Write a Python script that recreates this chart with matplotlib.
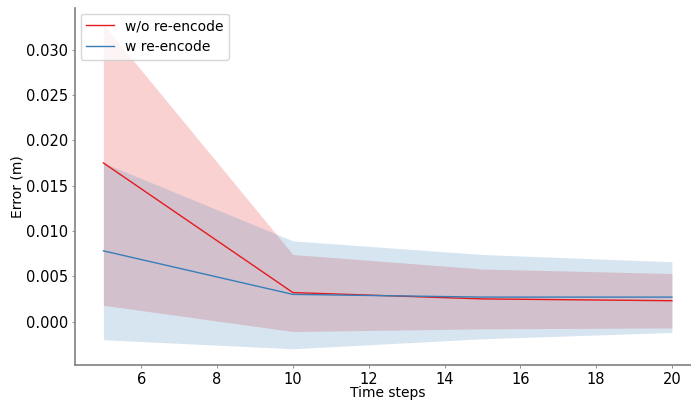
import numpy as np
import matplotlib.pyplot as plt

# time steps and error statistics
steps = [5, 10, 15, 20]

wo_mean = [0.0175, 0.0032, 0.0025, 0.0023]
wo_upper = [0.0328, 0.0074, 0.0058, 0.0053]
wo_lower = [0.0018, -0.0011, -0.0008, -0.0007]

w_mean = [0.0078, 0.0030, 0.0027, 0.0027]
w_upper = [0.0175, 0.0089, 0.0074, 0.0066]
w_lower = [-0.0020, -0.0030, -0.0019, -0.0012]

red = '#e41a1c'
blue = '#377eb8'

fig = plt.figure(figsize=(6.91, 4.0), dpi=100)
ax = fig.add_axes([0.1085, 0.0875, 0.905, 0.8925])

ax.plot(steps, wo_mean, color=red, lw=1.0, label='w/o re-encode')
ax.fill_between(steps, wo_lower, wo_upper, color=red, alpha=0.2, lw=0)
ax.plot(steps, w_mean, color=blue, lw=1.0, label='w re-encode')
ax.fill_between(steps, w_lower, w_upper, color=blue, alpha=0.2, lw=0)

ax.set_xlabel('Time steps', fontsize=10, labelpad=-1)
ax.set_ylabel('Error (m)', fontsize=10, labelpad=1)
ax.tick_params(labelsize=10.5, length=2.5, width=0.6, color='#808080', pad=2.5)
ax.set_xticks([6, 8, 10, 12, 14, 16, 18, 20])
ax.set_yticks([0.0, 0.005, 0.010, 0.015, 0.020, 0.025, 0.030])
ax.yaxis.set_major_formatter(plt.FormatStrFormatter('%.3f'))

for s in ['top', 'right']:
    ax.spines[s].set_visible(False)
for s in ['left', 'bottom']:
    ax.spines[s].set_color('#808080')
    ax.spines[s].set_linewidth(1.2)

ax.legend(loc='upper left', fontsize=10, borderaxespad=0.4)

plt.savefig('out.png', dpi=100)
